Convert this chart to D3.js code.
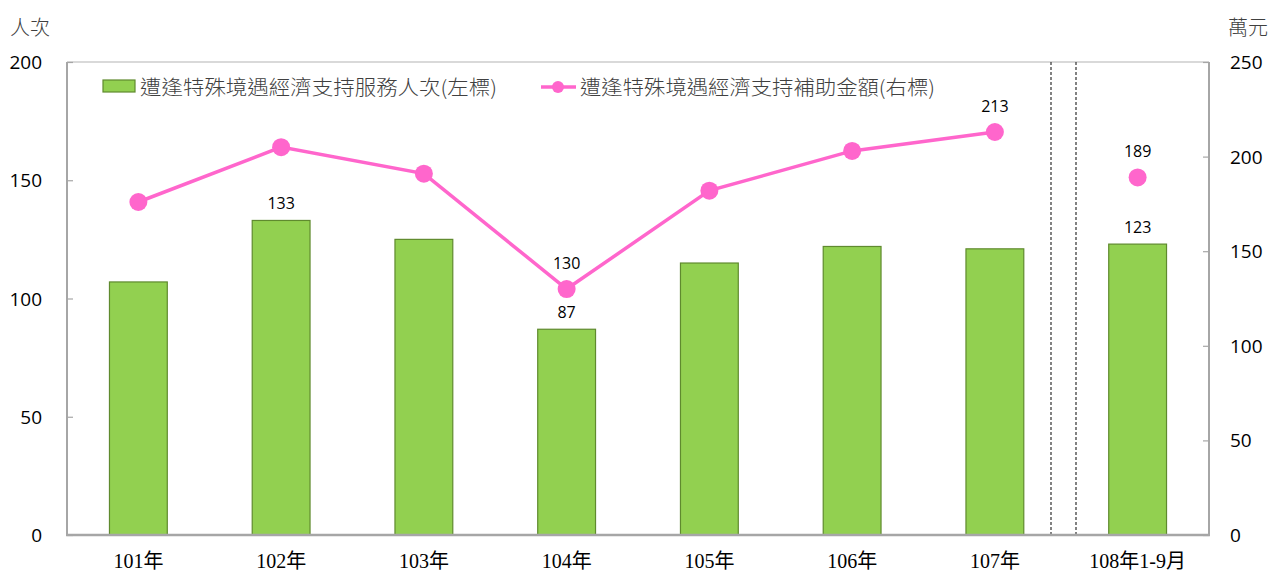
<!DOCTYPE html>
<html>
<head>
<meta charset="utf-8">
<script src="https://cdn.jsdelivr.net/npm/d3@7"></script>
<style>
  body { margin: 0; padding: 0; background: #fff; }
  svg { display: block; }
</style>
</head>
<body>
<div id="main"></div>
<script>
const categories = ['101年', '102年', '103年', '104年', '105年', '106年', '107年', '108年1-9月'];
const servicePeople = [107, 133, 125, 87, 115, 122, 121, 123];
const subsidyAmount = [176, 205, 191, 130, 182, 203, 213, 189];
const leftTicks = [0, 50, 100, 150, 200];
const rightTicks = [0, 50, 100, 150, 200, 250];
const barLabelIdx = [1, 3, 7];
const lineLabelIdx = [3, 6, 7];
const barSeriesName = '遭逢特殊境遇經濟支持服務人次(左標)';
const lineSeriesName = '遭逢特殊境遇經濟支持補助金額(右標)';

const WIDTH = 1271, HEIGHT = 572;
const plot = { left: 67, right: 1209, top: 62, bottom: 535 };
const NUMFONT = '"Open Sans", "Noto Sans", sans-serif';
const CATFONT = '"Liberation Serif", "Noto Sans CJK TC", serif';
const CJKFONT = '"Noto Sans CJK TC", sans-serif';

const svg = d3.select('#main').append('svg').attr('width', WIDTH).attr('height', HEIGHT);

const x = d3.scaleBand().domain(categories).range([plot.left, plot.right]).paddingInner(0.595).paddingOuter(0.2975);
const yLeft = d3.scaleLinear().domain([0, 200]).range([plot.bottom, plot.top]);
const yRight = d3.scaleLinear().domain([0, 250]).range([plot.bottom, plot.top]);

// top border
svg.append('line')
    .attr('x1', plot.left).attr('x2', plot.right)
    .attr('y1', plot.top).attr('y2', plot.top)
    .attr('stroke', '#d9d9d9').attr('stroke-width', 2);

// bars
svg.selectAll('rect.bar').data(servicePeople).enter().append('rect').attr('class', 'bar')
    .attr('x', (d, i) => x(categories[i]))
    .attr('y', (d) => yLeft(d))
    .attr('width', x.bandwidth())
    .attr('height', (d) => yLeft(0) - yLeft(d))
    .attr('fill', '#92d050')
    .attr('stroke', '#5f8a2e')
    .attr('stroke-width', 1.2);

// separator dashed lines
[1051, 1076].forEach((px) => {
    svg.append('line')
        .attr('x1', px).attr('x2', px)
        .attr('y1', plot.top).attr('y2', plot.bottom)
        .attr('stroke', '#404040').attr('stroke-width', 1.3)
        .attr('stroke-dasharray', '3,2');
});

// axes
const leftAxis = svg.append('g').attr('transform', `translate(${plot.left},0)`)
    .call(d3.axisRight(yLeft).tickValues(leftTicks).tickSize(6).tickFormat(''));
const rightAxis = svg.append('g').attr('transform', `translate(${plot.right},0)`)
    .call(d3.axisLeft(yRight).tickValues(rightTicks).tickSize(6).tickFormat(''));
[leftAxis, rightAxis].forEach((g) => {
    g.select('.domain').remove();
    g.selectAll('line').attr('stroke', '#a6a6a6').attr('stroke-width', 1.2);
});
svg.append('line').attr('x1', plot.left).attr('x2', plot.left).attr('y1', plot.top).attr('y2', plot.bottom)
    .attr('stroke', '#a6a6a6').attr('stroke-width', 2);
svg.append('line').attr('x1', plot.right).attr('x2', plot.right).attr('y1', plot.top).attr('y2', plot.bottom)
    .attr('stroke', '#a6a6a6').attr('stroke-width', 2);
svg.append('line').attr('x1', plot.left - 1).attr('x2', plot.right + 1).attr('y1', plot.bottom).attr('y2', plot.bottom)
    .attr('stroke', '#a6a6a6').attr('stroke-width', 2.5);

// tick labels
svg.selectAll('text.ytl').data(leftTicks).enter().append('text').attr('class', 'ytl')
    .attr('x', 42).attr('y', (d) => yLeft(d) + 7)
    .attr('text-anchor', 'end')
    .attr('font-family', NUMFONT).attr('font-size', 19).attr('fill', '#000')
    .text((d) => d);
svg.selectAll('text.ytr').data(rightTicks).enter().append('text').attr('class', 'ytr')
    .attr('x', 1230).attr('y', (d) => yRight(d) + 7)
    .attr('text-anchor', 'start')
    .attr('font-family', NUMFONT).attr('font-size', 19).attr('fill', '#000')
    .text((d) => d);
svg.selectAll('text.xtl').data(categories).enter().append('text').attr('class', 'xtl')
    .attr('x', (d) => x(d) + x.bandwidth() / 2).attr('y', 568)
    .attr('text-anchor', 'middle')
    .attr('font-family', CATFONT).attr('font-size', 20).attr('fill', '#000')
    .text((d) => d);

// unit labels
svg.append('text').attr('x', 10).attr('y', 35).attr('font-family', CJKFONT).attr('font-size', 20).attr('fill', '#404040').attr('font-weight', 300).text('人次');
svg.append('text').attr('x', 1228).attr('y', 35).attr('font-family', CJKFONT).attr('font-size', 20).attr('fill', '#404040').attr('font-weight', 300).text('萬元');

// line (101-107 connected, 108 separate)
const cx = (i) => x(categories[i]) + x.bandwidth() / 2;
const lineGen = d3.line().x((d, i) => cx(i)).y((d) => yRight(d));
svg.append('path').datum(subsidyAmount.slice(0, 7))
    .attr('d', lineGen)
    .attr('fill', 'none').attr('stroke', '#ff66cc').attr('stroke-width', 3.5);
svg.selectAll('circle.pt').data(subsidyAmount).enter().append('circle').attr('class', 'pt')
    .attr('cx', (d, i) => cx(i)).attr('cy', (d) => yRight(d))
    .attr('r', 9).attr('fill', '#ff66cc');

// data labels
svg.selectAll('text.bl').data(barLabelIdx).enter().append('text').attr('class', 'bl')
    .attr('x', (i) => cx(i)).attr('y', (i) => yLeft(servicePeople[i]) - 11)
    .attr('text-anchor', 'middle')
    .attr('font-family', NUMFONT).attr('font-size', 16).attr('fill', '#000')
    .text((i) => servicePeople[i]);
svg.selectAll('text.ll').data(lineLabelIdx).enter().append('text').attr('class', 'll')
    .attr('x', (i) => cx(i)).attr('y', (i) => yRight(subsidyAmount[i]) - 20)
    .attr('text-anchor', 'middle')
    .attr('font-family', NUMFONT).attr('font-size', 16).attr('fill', '#000')
    .text((i) => subsidyAmount[i]);

// legend
const legend = svg.append('g');
legend.append('rect').attr('x', 103).attr('y', 80).attr('width', 32).attr('height', 12)
    .attr('fill', '#92d050').attr('stroke', '#5f8a2e').attr('stroke-width', 1.2);
legend.append('text').attr('x', 140).attr('y', 95)
    .attr('font-family', CJKFONT).attr('font-size', 20).attr('fill', '#404040').attr('font-weight', 300)
    .attr('textLength', 357).attr('lengthAdjust', 'spacingAndGlyphs')
    .text(barSeriesName);
legend.append('line').attr('x1', 541).attr('x2', 576).attr('y1', 87).attr('y2', 87)
    .attr('stroke', '#ff66cc').attr('stroke-width', 3.5);
legend.append('circle').attr('cx', 558).attr('cy', 87).attr('r', 6).attr('fill', '#ff66cc');
legend.append('text').attr('x', 580).attr('y', 95)
    .attr('font-family', CJKFONT).attr('font-size', 20).attr('fill', '#404040').attr('font-weight', 300)
    .attr('textLength', 355).attr('lengthAdjust', 'spacingAndGlyphs')
    .text(lineSeriesName);
</script>
</body>
</html>
